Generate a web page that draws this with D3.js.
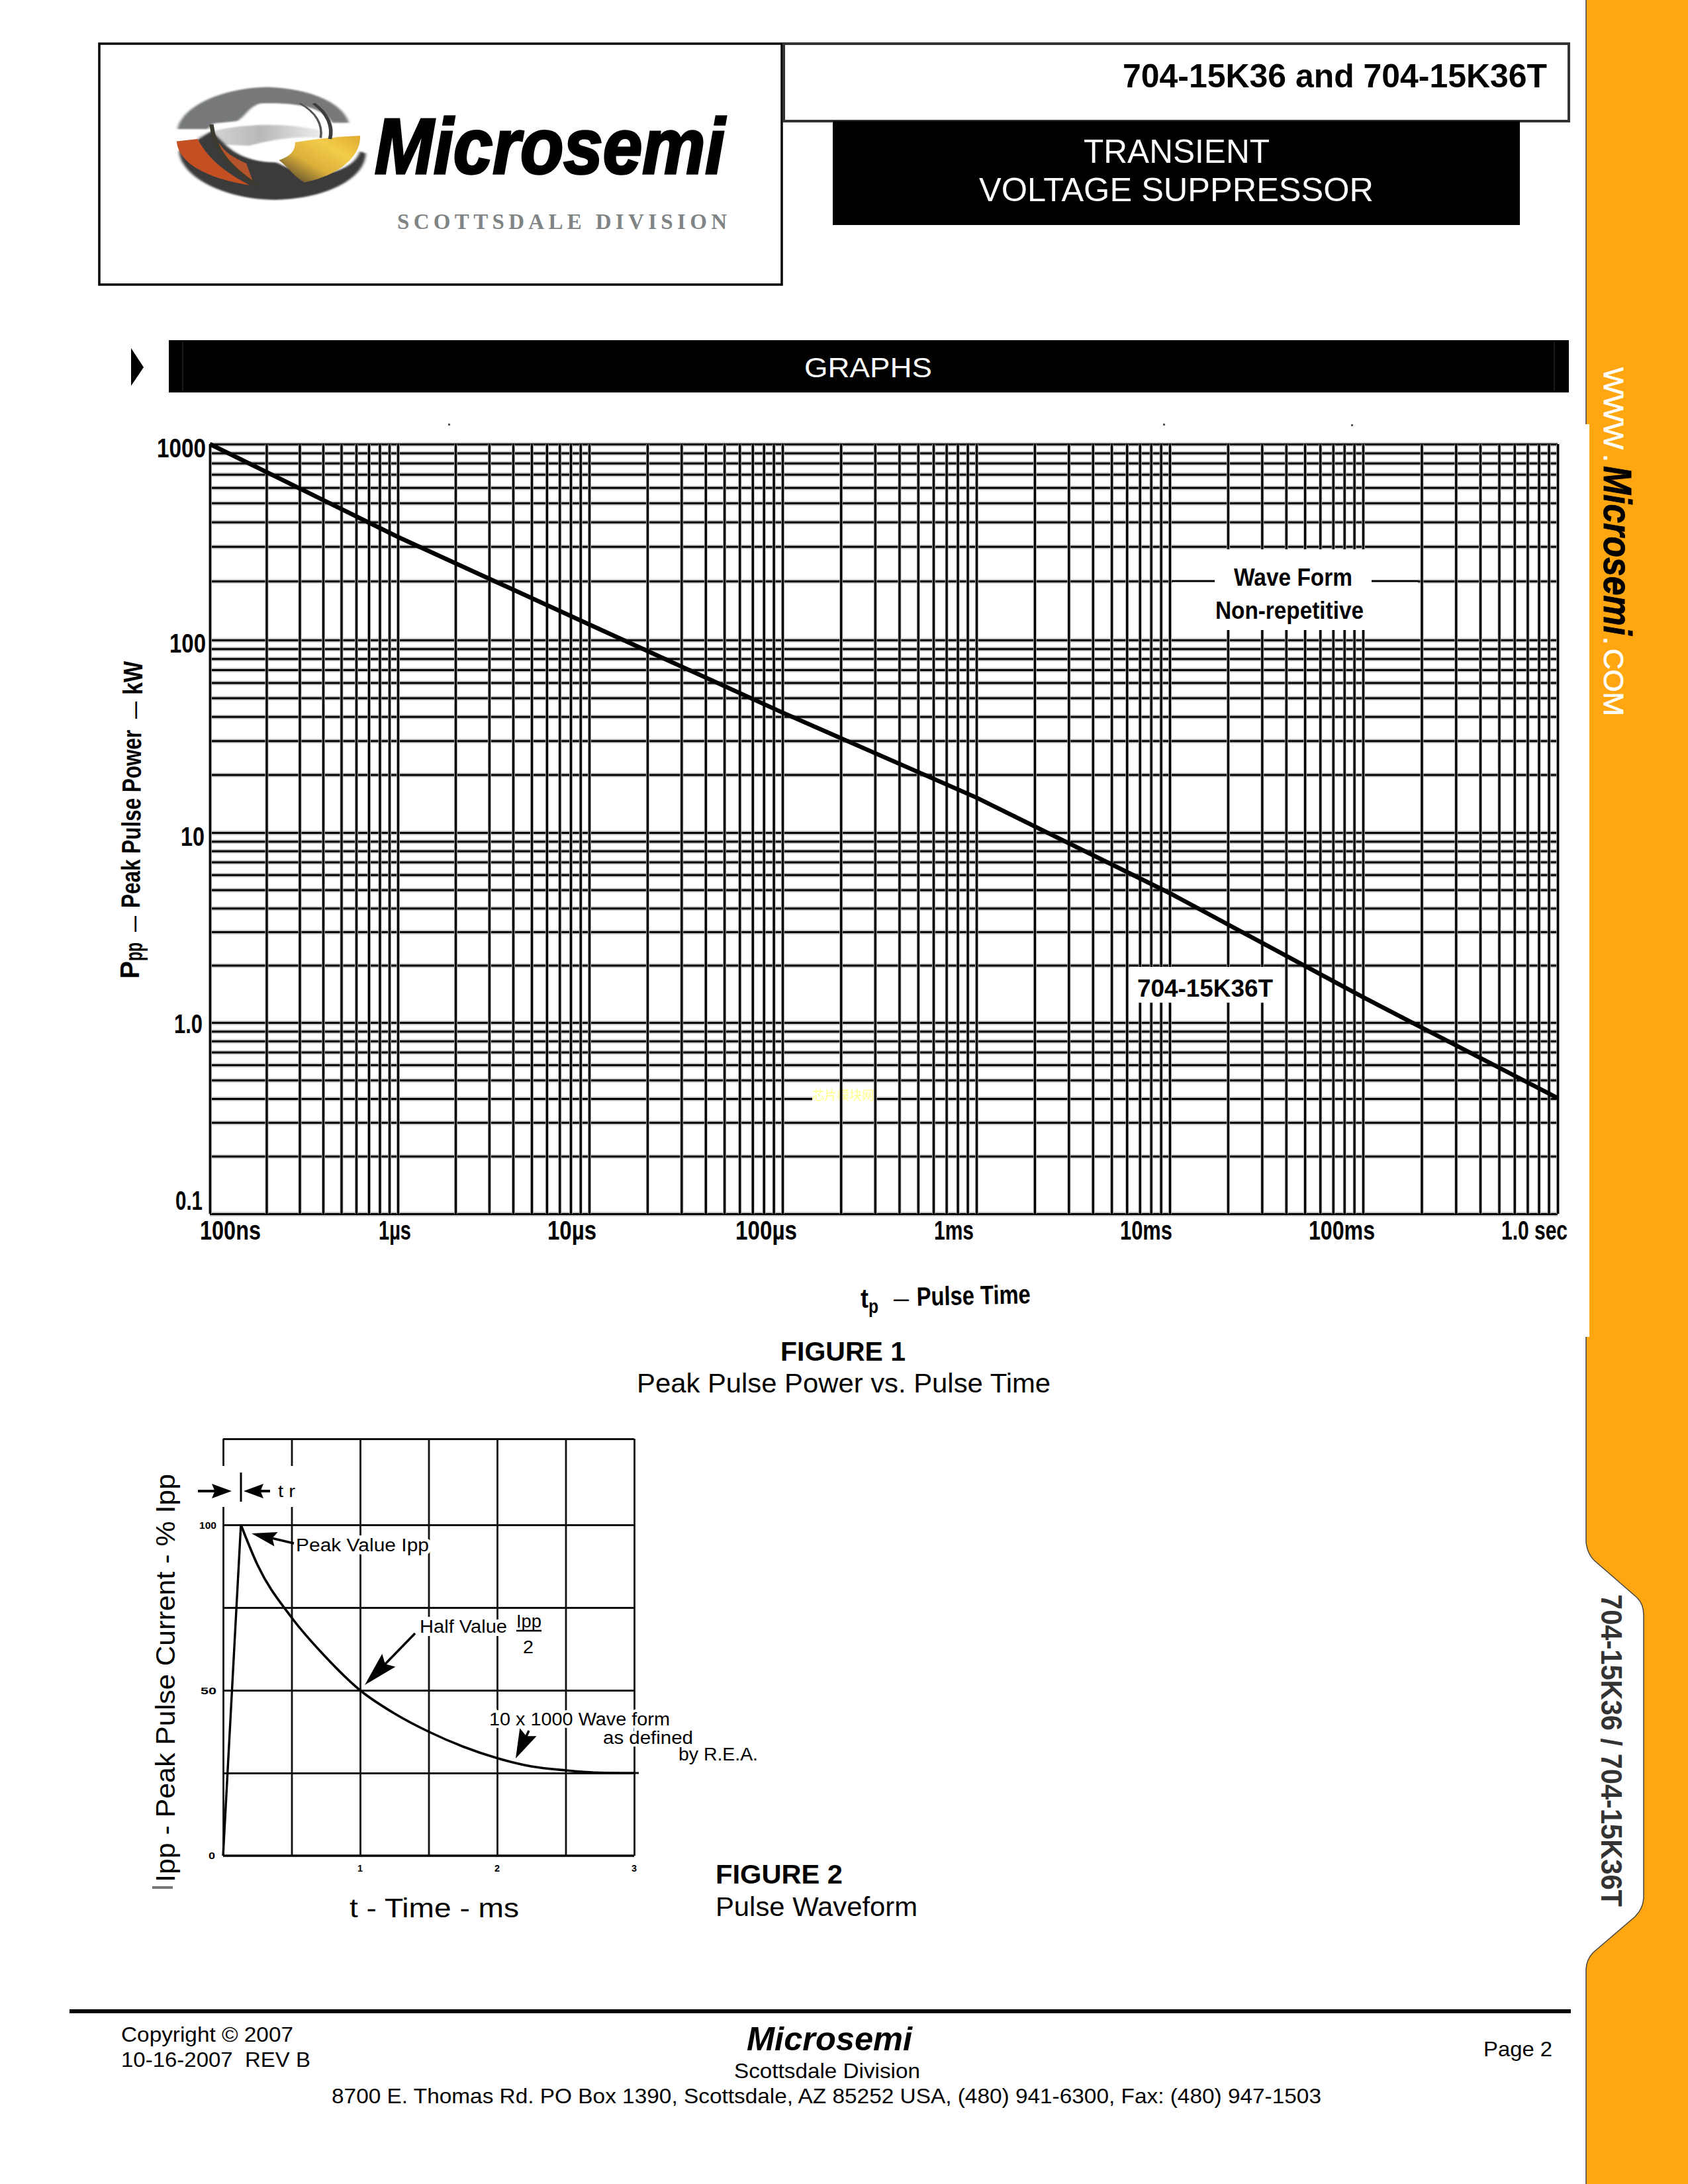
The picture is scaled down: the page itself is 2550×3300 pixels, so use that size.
<!DOCTYPE html>
<html><head><meta charset="utf-8">
<script src="https://cdn.jsdelivr.net/npm/d3@7"></script>
<style>html,body{margin:0;padding:0;background:#fff;overflow:hidden}svg{display:block}text{font-family:"Liberation Sans",Arial,sans-serif}</style>
</head><body><svg id="page" width="2550" height="3300" viewBox="0 0 2550 3300"></svg>
<script>
// ---- Figure 1 data
const fig1Decades = [1e-7,1e-6,1e-5,1e-4,1e-3,1e-2,1e-1,1];
const fig1PowerDecades = [1000,100,10,1,0.1];
const fig1Mantissas = [1,2,3,4,5,6,7,8,9];
const fig1Time = [1e-7,1e-6,1e-5,1e-4,1e-3,1e-2,1e-1,1];
const fig1Power = [1000,336,120,42,15.2,4.8,1.36,0.403];
const fig1XLabels = ["100ns","1\u00b5s","10\u00b5s","100\u00b5s","1ms","10ms","100ms","1.0 sec"];
const fig1YLabels = ["1000","100","10","1.0","0.1"];
// ---- Figure 2 data
const fig2Time = [0,0.13,0.25,0.5,0.75,1,1.25,1.5,1.75,2,2.25,2.5,2.75,3];
const fig2Current = [0,100,88,72,60,50,43,37.5,33,29.5,27,25.8,25.1,25];
const fig2GridTime = [0,0.5,1,1.5,2,2.5,3];
const fig2GridCurrent = [25,50,75,100,126];
const fig2XLabels = [1,2,3];
const fig2YLabels = [0,50,100];

// ---- layout
const xPx1 = [317,601,890,1182,1475,1767,2059,2353];
const yPx1 = [671,967,1258,1545,1834];
const fig1XBox = [[302,92],[572,49],[827,74],[1111,93],[1411,60],[1692,79],[1977,100],[2268,100]];
const fig1YBox = [[237,74,691],[256,55,986],[273,36,1278],[263,43,1561],[265,41,1828]];
const svg = d3.select("#page");
const ORANGE = "#ffa610";

function T(x,y,s,size,width,o={}){
  const t=svg.append("text").attr("x",x).attr("y",y).attr("font-size",size).attr("fill",o.fill||"#000")
   .attr("font-weight",o.bold?"bold":"normal").attr("font-style",o.italic?"italic":"normal").text(s);
  if(o.family)t.style("font-family",o.family);
  if(width)t.attr("textLength",width).attr("lengthAdjust",o.spacing?"spacing":"spacingAndGlyphs");
  if(o.rot!==undefined)t.attr("x",0).attr("y",0).attr("transform",`translate(${x},${y}) rotate(${o.rot})`);
  if(o.halo)t.attr("stroke","#fff").attr("stroke-width",o.halo).attr("paint-order","stroke");
  if(o.heavy)t.attr("stroke",o.fill||"#000").attr("stroke-width",o.heavy);
  return t;
}
function arrow(x0,y0,x1,y1,hl,hw,lw){
  const a=Math.atan2(y1-y0,x1-x0),c=Math.cos(a),s=Math.sin(a);
  svg.append("line").attr("x1",x0).attr("y1",y0).attr("x2",x1-c*hl*.7).attr("y2",y1-s*hl*.7).attr("stroke","#000").attr("stroke-width",lw||3);
  const bx=x1-c*hl,by=y1-s*hl;
  svg.append("polygon").attr("points",`${x1},${y1} ${bx-s*hw},${by+c*hw} ${bx+c*hl*.15},${by+s*hl*.15} ${bx+s*hw},${by-c*hw}`).attr("fill","#000");
}
function R(x,y,w,h,fill,o={}){return svg.append("rect").attr("x",x).attr("y",y).attr("width",w).attr("height",h).attr("fill",fill).attr("stroke",o.stroke||"none").attr("stroke-width",o.sw||0);}

// ---- sidebar
svg.append("path").attr("fill",ORANGE).attr("d",
 "M2550,0 L2396,0 L2396,641 L2401,641 L2401,2020 L2396,2020 L2396,2330 Q2398,2350 2412,2361 L2473,2414 Q2483,2424 2483,2440 L2483,2868 Q2482,2884 2470,2896 L2407,2950 Q2397,2960 2396,2975 L2396,3300 L2550,3300 Z");
svg.append("path").attr("fill","none").attr("stroke","#444").attr("stroke-width",1.5).attr("d",
 "M2396,0 L2396,641 M2396,2020 L2396,2330 Q2398,2350 2412,2361 L2473,2414 Q2483,2424 2483,2440 L2483,2868 Q2482,2884 2470,2896 L2407,2950 Q2397,2960 2396,2975 L2396,3300");
T(2423,555,"WWW",43,124,{fill:"#fff",rot:90,heavy:0.8});
T(2423,686,".",43,0,{fill:"#fff",rot:90,heavy:0.8});
T(2423,704,"Microsemi",60,256,{bold:true,italic:true,rot:90,heavy:1});
T(2423,962,".",43,0,{fill:"#fff",rot:90,heavy:0.8});
T(2423,980,"COM",43,102,{fill:"#fff",rot:90,heavy:0.8});
T(2419,2409,"704-15K36 / 704-15K36T",44,472,{fill:"#333",bold:true,rot:90});

// ---- header
R(150,66,1031,364,"#fff",{stroke:"#000",sw:3.5});
R(1184,66,1186,117,"#fff",{stroke:"#333",sw:4});
R(1258,183,1038,157,"#000");
T(1696,132,"704-15K36 and 704-15K36T",50,641,{bold:true});
T(1637,246,"TRANSIENT",50,281,{fill:"#fff"});
T(1479,304,"VOLTAGE SUPPRESSOR",50,596,{fill:"#fff"});
// logo
const defs=svg.append("defs");
const g1=defs.append("linearGradient").attr("id","yl").attr("x1","0").attr("x2","1").attr("y1","1").attr("y2","0");
g1.append("stop").attr("offset","0").attr("stop-color","#3a3329");g1.append("stop").attr("offset",".4").attr("stop-color","#dcb03a");g1.append("stop").attr("offset",".7").attr("stop-color","#f2cc4a");g1.append("stop").attr("offset","1").attr("stop-color","#e0aa30");
const g2=defs.append("linearGradient").attr("id","gr").attr("x1","0").attr("x2","1").attr("y1","0").attr("y2","0");
g2.append("stop").attr("offset","0").attr("stop-color","#ddd");g2.append("stop").attr("offset",".5").attr("stop-color","#b8b8b8");g2.append("stop").attr("offset","1").attr("stop-color","#eee");
const blur=defs.append("filter").attr("id","bl");blur.append("feGaussianBlur").attr("stdDeviation","3");
const logo=svg.append("g").attr("transform","translate(130,40) scale(0.7018,0.3367)");
const P=(d,f,o)=>{const p=logo.append("path").attr("d",d).attr("fill",f);if(o&&o.s)p.attr("stroke",o.s).attr("stroke-width",o.w).attr("fill","none");if(o&&o.b)p.attr("filter","url(#bl)");return p;};
P("M240,495 C300,435 430,425 510,470 L510,500 C440,490 400,510 350,535 L250,525 Z","url(#gr)",{b:1});
P("M200,560 C205,680 300,775 405,778 C510,775 600,690 602,570 L590,560 C575,650 500,690 440,640 L410,610 C370,610 330,590 300,530 L270,470 Z","#3a3a3a",{b:1});
P("M197,460 C205,370 280,278 390,272 C480,278 552,340 566,432 L530,432 C510,370 470,340 375,345 C350,360 345,400 325,425 L275,435 L262,460 Z","#767879",{b:1});
P("M195,515 L240,505 C262,590 295,650 352,712 C280,690 200,630 195,515 Z","#c44f23");
P("M285,520 C300,570 320,590 345,615 L360,700 C320,650 295,590 285,520 Z","#b5532a");
P("M450,520 C500,500 550,495 590,490 C592,590 540,670 470,700 C445,670 435,630 415,600 C445,580 450,550 450,520 Z","url(#yl)");
P("M270,440 C275,540 300,620 370,715","", {s:"#3d3a30",w:9});
P("M490,345 C520,390 532,450 525,505","", {s:"#3d3d3d",w:8});
P("M460,345 C495,385 510,440 505,500","", {s:"#555",w:5});
T(566,262,"Microsemi",118,529,{bold:true,italic:true,heavy:3.5});
T(600,346,"SCOTTSDALE DIVISION",33,498,{fill:"#808484",bold:true,spacing:true,family:'"Liberation Serif",serif'});

// ---- section bar
R(255,514,2115,79,"#000");
svg.append("line").attr("x1",276).attr("x2",276).attr("y1",516).attr("y2",591).attr("stroke","#333").attr("stroke-width",1);
svg.append("line").attr("x1",2348).attr("x2",2348).attr("y1",516).attr("y2",591).attr("stroke","#333").attr("stroke-width",1);
svg.append("polygon").attr("points","198,526 217,555 198,583").attr("fill","#000");
T(1215,570,"GRAPHS",43,193,{fill:"#fff"});

// ---- Figure 1
const x1=d3.scaleLog().domain(fig1Decades).range(xPx1);
const y1=d3.scaleLog().domain(fig1PowerDecades).range(yPx1);
const xTicks=fig1Decades.slice(0,-1).flatMap(d=>fig1Mantissas.map(m=>m*d)).concat([1]);
const yTicks=fig1PowerDecades.slice(1).flatMap(d=>fig1Mantissas.map(m=>m*d)).concat([1000]);
const left=xPx1[0], right=xPx1[7], top1=yPx1[0], bot1=yPx1[4];
function hgrid(g,color,w){
  g.attr("transform",`translate(${left},0)`).call(d3.axisLeft(y1).tickValues(yTicks).tickSize(-(right-left)).tickFormat(""))
   .call(s=>s.select(".domain").remove()).selectAll("line").attr("stroke",color).attr("stroke-width",w);
}
function vgrid(g,color,w){
  g.attr("transform",`translate(0,${bot1})`).call(d3.axisBottom(x1).tickValues(xTicks).tickSize(-(bot1-top1)).tickFormat(""))
   .call(s=>s.select(".domain").remove()).selectAll("line").attr("stroke",color).attr("stroke-width",w);
}
svg.append("g").call(hgrid,"#c2c2c2",6.5);
svg.append("g").call(hgrid,"#000",3);
// watermark sits over a small break in one grid line
R(1227,1656,94,11,"#fff");
T(1227,1662,"\u82af\u7247\u6a21\u5757\u7f51",19,94,{fill:"#ffff8c",family:'"Noto Sans CJK SC",sans-serif'});
svg.append("g").call(vgrid,"#b8b8b8",5);
svg.append("g").call(vgrid,"#000",3.3);
// label boxes break the grid
R(1771,830,371,122,"#fff");
[[1771,1835],[2072,2142]].forEach(s=>{
  svg.append("line").attr("x1",s[0]).attr("x2",s[1]).attr("y1",y1(200)).attr("y2",y1(200)).attr("stroke","#000").attr("stroke-width",3);
});
R(1707,1461,228,54,"#fff");
const line1=d3.line().x((d,i)=>x1(fig1Time[i])).y(d=>y1(d));
svg.append("path").attr("d",line1(fig1Power)).attr("fill","none").attr("stroke","#000").attr("stroke-width",6.5);
const bold1={bold:true};
T(1864,885,"Wave Form",37,179,bold1);
T(1836,935,"Non-repetitive",37,224,bold1);
T(1718,1506,"704-15K36T",37,205,bold1);
fig1YLabels.forEach((s,i)=>T(fig1YBox[i][0],fig1YBox[i][2],s,41,fig1YBox[i][1],bold1));
fig1XLabels.forEach((s,i)=>T(fig1XBox[i][0],1873,s,41,fig1XBox[i][1],bold1));
[[677,640],[1757,640],[2041,641]].forEach(p=>R(p[0],p[1],3,3,"#555"));
// axis titles
T(1300,1976,"t",40,12,bold1);
T(1312,1984,"p",30,15,bold1);
T(1350,1972,"\u2014",26,23,bold1);
T(1385,1973,"Pulse Time",40,172,{bold:true}).attr("transform","rotate(-1.3 1385 1973)");
T(210,1479,"P",40,27,{bold:true,rot:-90});
T(215,1452,"pp",36,28,{bold:true,rot:-90});
T(212,1408,"\u2014",26,24,{bold:true,rot:-90});
T(211,1372,"Peak Pulse Power",40,269,{bold:true,rot:-89.5});
T(213,1086,"\u2014",26,26,{bold:true,rot:-90});
T(215,1050,"kW",40,51,{bold:true,rot:-90});
T(1179,2056,"FIGURE 1",41,189,{bold:true});
T(962,2104,"Peak Pulse Power vs. Pulse Time",41,625);

// ---- Figure 2
const x2=d3.scaleLinear().domain([0,3]).range([337,958]);
const y2=d3.scaleLinear().domain([0,100]).range([2804,2304]);
const topCurrent=fig2GridCurrent[fig2GridCurrent.length-1];
const gv=svg.append("g").attr("transform","translate(0,2804)").call(d3.axisBottom(x2).tickValues(fig2GridTime).tickSize(-(2804-y2(topCurrent))).tickFormat(""));
gv.select(".domain").attr("d",`M${x2(0)},0 H${x2(3)}`).attr("stroke","#000").attr("stroke-width",3.4);
gv.selectAll("line").attr("stroke","#111").attr("stroke-width",2.8);
const gh=svg.append("g").attr("transform",`translate(${x2(0)},0)`).call(d3.axisLeft(y2).tickValues(fig2GridCurrent).tickSize(-(x2(3)-x2(0))).tickFormat(""));
gh.select(".domain").remove();
gh.selectAll("line").attr("stroke","#111").attr("stroke-width",3);
svg.append("line").attr("x1",x2(3)).attr("x2",965).attr("y1",y2(25)).attr("y2",y2(25)).attr("stroke","#111").attr("stroke-width",3);
R(329,2215,118,62,"#fff");
const lineCurve=d3.line().x(d=>x2(d[0])).y(d=>y2(d[1])).curve(d3.curveMonotoneX);
const pairs=fig2Time.map((t,i)=>[t,fig2Current[i]]);
svg.append("path").attr("d",d3.line().x(d=>x2(d[0])).y(d=>y2(d[1]))(pairs.slice(0,2))).attr("fill","none").attr("stroke","#000").attr("stroke-width",3.4);
svg.append("path").attr("d",lineCurve(pairs.slice(1))).attr("fill","none").attr("stroke","#000").attr("stroke-width",3.6);
fig2YLabels.forEach(v=>T(v===0?315:v===50?303:301,y2(v)+(v===50?6:v===0?5:6),String(v),15,v===0?10:v===50?24:26,{bold:true}));
fig2XLabels.forEach(v=>T(x2(v)-4,2828,String(v),15,8,{bold:true}));
const heavy2=0.5;
T(447,2344,"Peak Value Ipp",27,201,{halo:10});
T(634,2467,"Half Value",27,132,{halo:10});
T(780,2459,"Ipp",27,38,{halo:6});
svg.append("line").attr("x1",780).attr("x2",818).attr("y1",2464).attr("y2",2464).attr("stroke","#000").attr("stroke-width",2.4);
T(790,2498,"2",27,16,{halo:6});
T(739,2607,"10 x 1000 Wave form",27,273,{halo:8});
T(911,2635,"as defined",27,136,{halo:8});
T(1025,2660,"by R.E.A.",27,120,{halo:6});
T(420,2262,"t r",25,26);
svg.append("line").attr("x1",364).attr("x2",364).attr("y1",2225).attr("y2",2269).attr("stroke","#000").attr("stroke-width",3);
arrow(299,2253,350,2253,30,11,4);
arrow(408,2253,368,2253,30,11,4);
arrow(444,2332,380,2317,38,11,3.5);
arrow(627,2468,551,2546,52,14,3.5);
arrow(799,2615,779,2657,44,14,3.5);
T(264,2844,"Ipp - Peak Pulse Current - % Ipp",40,617,{rot:-90});
T(528,2897,"t - Time - ms",40,256);
R(230,2850,31,4,"#777");
T(1081,2846,"FIGURE 2",41,192,{bold:true});
T(1081,2895,"Pulse Waveform",41,305);

// ---- footer
R(105,3036,2268,6,"#000");
T(183,3085,"Copyright \u00a9 2007",32,260);
T(183,3123,"10-16-2007  REV B",32,286).style("white-space","pre");
T(1128,3098,"Microsemi",50,250,{bold:true,italic:true});
T(1109,3140,"Scottsdale Division",32,281);
T(501,3178,"8700 E. Thomas Rd. PO Box 1390, Scottsdale, AZ 85252 USA, (480) 941-6300, Fax: (480) 947-1503",32,1495);
T(2241,3107,"Page 2",32,104);
</script></body></html>
